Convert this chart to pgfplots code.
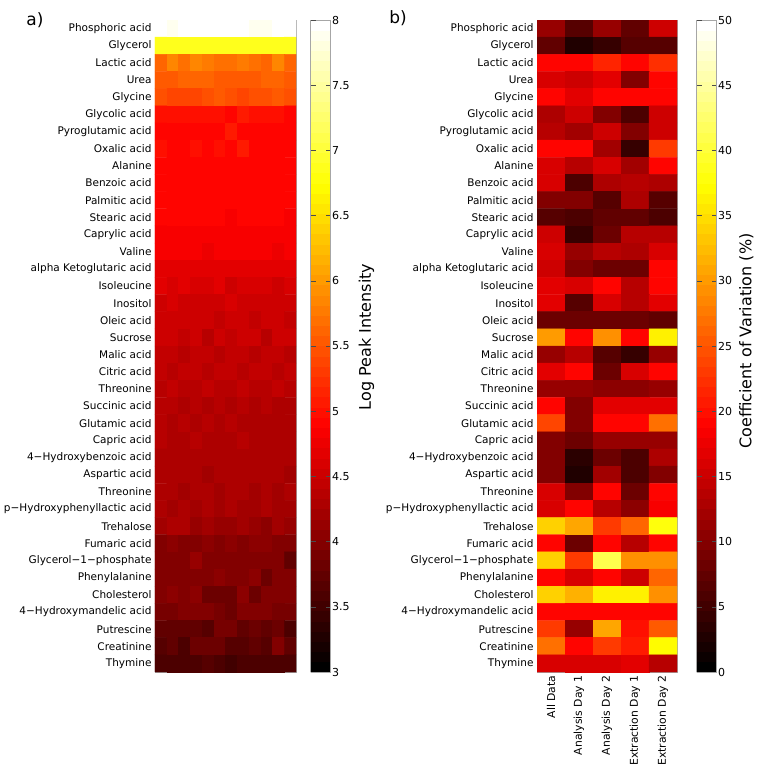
\documentclass[border=0pt]{standalone}
\usepackage{pgfplots}
\pgfplotsset{compat=1.18}
\usepackage{fontspec}
\setmainfont{DejaVu Sans}

\pgfplotsset{
  colormap={hotbase}{rgb(0pt)=(0,0,0); rgb(3pt)=(1,0,0); rgb(6pt)=(1,1,0); rgb(8pt)=(1,1,1)},
  colormap={hot64}{samples of colormap=(64 of hotbase)},
  heat/.style={
    scale only axis, height=652pt,
    enlargelimits=false, y dir=reverse,
    ymin=-0.5, ymax=37.5,
    ytick={0,...,37},
    yticklabels={Phosphoric acid,Glycerol,Lactic acid,Urea,Glycine,Glycolic acid,Pyroglutamic acid,Oxalic acid,Alanine,Benzoic acid,Palmitic acid,Stearic acid,Caprylic acid,Valine,alpha Ketoglutaric acid,Isoleucine,Inositol,Oleic acid,Sucrose,Malic acid,Citric acid,Threonine,Succinic acid,Glutamic acid,Capric acid,4−Hydroxybenzoic acid,Aspartic acid,Threonine,p−Hydroxyphenyllactic acid,Trehalose,Fumaric acid,Glycerol−1−phosphate,Phenylalanine,Cholesterol,4−Hydroxymandelic acid,Putrescine,Creatinine,Thymine},
    yticklabel style={font=\fontsize{10.5}{12}\selectfont},
    major tick length=0pt,
    axis line style={gray!70},
    colormap name=hot64,
    colormap access=piecewise constant,
    colorbar,
  },
  cbar/.style={
    at={(parent axis.north east)}, anchor=north west,
    width=20pt,
    axis line style={gray!70},
    ytick pos=both, yticklabel pos=right,
    tick align=inside, major tick length=5pt,
    tick style={black!70},
    /pgf/number format/assume math mode=true,
    yticklabel style={font=\fontsize{11}{13}\selectfont, inner sep=1.5pt},
    ylabel style={font=\fontsize{16}{19}\selectfont},
  },
}

\begin{document}
\begin{tikzpicture}
\useasboundingbox (0,0) rectangle (762pt,771pt);

\begin{axis}[heat, width=141pt, at={(155pt,99pt)}, anchor=south west,
  xmin=-0.5, xmax=11.5, xtick=\empty,
  point meta min=3, point meta max=8,
  colorbar style={cbar, xshift=6pt, ytick={3,3.5,...,8}, ylabel={Log Peak Intensity}, ylabel style={xshift=9pt, yshift=-4pt}}]
\addplot[matrix plot*, mesh/cols=12, point meta=explicit] coordinates {
(0,0)[7.95] (1,0)[7.9] (2,0)[7.95] (3,0)[7.95] (4,0)[7.95] (5,0)[7.95] (6,0)[7.95] (7,0)[7.95] (8,0)[7.9] (9,0)[7.9] (10,0)[7.95] (11,0)[7.95]
(0,1)[6.85] (1,1)[6.9] (2,1)[6.85] (3,1)[6.9] (4,1)[6.9] (5,1)[6.85] (6,1)[6.85] (7,1)[6.9] (8,1)[6.85] (9,1)[6.9] (10,1)[6.85] (11,1)[6.85]
(0,2)[5.65] (1,2)[5.85] (2,2)[5.7] (3,2)[5.85] (4,2)[5.75] (5,2)[5.7] (6,2)[5.7] (7,2)[5.75] (8,2)[5.7] (9,2)[5.65] (10,2)[5.85] (11,2)[5.65]
(0,3)[5.55] (1,3)[5.55] (2,3)[5.6] (3,3)[5.6] (4,3)[5.6] (5,3)[5.55] (6,3)[5.5] (7,3)[5.55] (8,3)[5.55] (9,3)[5.6] (10,3)[5.65] (11,3)[5.55]
(0,4)[5.45] (1,4)[5.4] (2,4)[5.4] (3,4)[5.4] (4,4)[5.45] (5,4)[5.55] (6,4)[5.45] (7,4)[5.4] (8,4)[5.45] (9,4)[5.45] (10,4)[5.5] (11,4)[5.45]
(0,5)[5.0] (1,5)[5.0] (2,5)[5.0] (3,5)[5.0] (4,5)[5.0] (5,5)[5.0] (6,5)[4.95] (7,5)[5.1] (8,5)[5.0] (9,5)[5.0] (10,5)[5.0] (11,5)[4.95]
(0,6)[4.95] (1,6)[4.95] (2,6)[4.95] (3,6)[4.95] (4,6)[4.95] (5,6)[4.9] (6,6)[5.05] (7,6)[4.95] (8,6)[4.95] (9,6)[4.95] (10,6)[4.9] (11,6)[4.95]
(0,7)[5.0] (1,7)[4.95] (2,7)[4.95] (3,7)[5.0] (4,7)[4.95] (5,7)[5.0] (6,7)[4.95] (7,7)[5.1] (8,7)[4.95] (9,7)[4.95] (10,7)[4.95] (11,7)[4.95]
(0,8)[4.9] (1,8)[4.9] (2,8)[4.9] (3,8)[4.9] (4,8)[4.9] (5,8)[4.9] (6,8)[4.9] (7,8)[4.9] (8,8)[4.9] (9,8)[4.9] (10,8)[4.9] (11,8)[4.9]
(0,9)[4.9] (1,9)[4.9] (2,9)[4.9] (3,9)[4.9] (4,9)[4.9] (5,9)[4.9] (6,9)[4.9] (7,9)[4.9] (8,9)[4.9] (9,9)[4.9] (10,9)[4.9] (11,9)[4.9]
(0,10)[4.9] (1,10)[4.9] (2,10)[4.9] (3,10)[4.9] (4,10)[4.9] (5,10)[4.9] (6,10)[4.9] (7,10)[4.9] (8,10)[4.9] (9,10)[4.9] (10,10)[4.9] (11,10)[4.9]
(0,11)[4.9] (1,11)[4.9] (2,11)[4.9] (3,11)[4.9] (4,11)[4.9] (5,11)[4.9] (6,11)[4.85] (7,11)[4.9] (8,11)[4.9] (9,11)[4.9] (10,11)[4.9] (11,11)[4.85]
(0,12)[4.85] (1,12)[4.85] (2,12)[4.85] (3,12)[4.85] (4,12)[4.85] (5,12)[4.8] (6,12)[4.85] (7,12)[4.85] (8,12)[4.85] (9,12)[4.85] (10,12)[4.8] (11,12)[4.85]
(0,13)[4.8] (1,13)[4.8] (2,13)[4.8] (3,13)[4.8] (4,13)[4.75] (5,13)[4.8] (6,13)[4.8] (7,13)[4.8] (8,13)[4.8] (9,13)[4.8] (10,13)[4.75] (11,13)[4.8]
(0,14)[4.7] (1,14)[4.7] (2,14)[4.7] (3,14)[4.7] (4,14)[4.65] (5,14)[4.7] (6,14)[4.65] (7,14)[4.7] (8,14)[4.7] (9,14)[4.7] (10,14)[4.65] (11,14)[4.7]
(0,15)[4.65] (1,15)[4.6] (2,15)[4.65] (3,15)[4.6] (4,15)[4.6] (5,15)[4.65] (6,15)[4.55] (7,15)[4.6] (8,15)[4.6] (9,15)[4.6] (10,15)[4.55] (11,15)[4.6]
(0,16)[4.55] (1,16)[4.6] (2,16)[4.55] (3,16)[4.55] (4,16)[4.5] (5,16)[4.55] (6,16)[4.6] (7,16)[4.55] (8,16)[4.5] (9,16)[4.5] (10,16)[4.55] (11,16)[4.55]
(0,17)[4.5] (1,17)[4.55] (2,17)[4.5] (3,17)[4.5] (4,17)[4.5] (5,17)[4.45] (6,17)[4.5] (7,17)[4.5] (8,17)[4.45] (9,17)[4.5] (10,17)[4.5] (11,17)[4.45]
(0,18)[4.5] (1,18)[4.5] (2,18)[4.45] (3,18)[4.5] (4,18)[4.4] (5,18)[4.5] (6,18)[4.45] (7,18)[4.5] (8,18)[4.5] (9,18)[4.4] (10,18)[4.5] (11,18)[4.5]
(0,19)[4.45] (1,19)[4.45] (2,19)[4.4] (3,19)[4.45] (4,19)[4.45] (5,19)[4.4] (6,19)[4.45] (7,19)[4.45] (8,19)[4.4] (9,19)[4.45] (10,19)[4.45] (11,19)[4.4]
(0,20)[4.45] (1,20)[4.4] (2,20)[4.45] (3,20)[4.45] (4,20)[4.4] (5,20)[4.45] (6,20)[4.45] (7,20)[4.4] (8,20)[4.45] (9,20)[4.45] (10,20)[4.4] (11,20)[4.45]
(0,21)[4.4] (1,21)[4.45] (2,21)[4.4] (3,21)[4.4] (4,21)[4.45] (5,21)[4.4] (6,21)[4.4] (7,21)[4.45] (8,21)[4.4] (9,21)[4.4] (10,21)[4.45] (11,21)[4.4]
(0,22)[4.35] (1,22)[4.35] (2,22)[4.3] (3,22)[4.35] (4,22)[4.3] (5,22)[4.35] (6,22)[4.25] (7,22)[4.35] (8,22)[4.3] (9,22)[4.35] (10,22)[4.3] (11,22)[4.3]
(0,23)[4.35] (1,23)[4.3] (2,23)[4.35] (3,23)[4.3] (4,23)[4.35] (5,23)[4.3] (6,23)[4.35] (7,23)[4.3] (8,23)[4.25] (9,23)[4.3] (10,23)[4.25] (11,23)[4.3]
(0,24)[4.35] (1,24)[4.3] (2,24)[4.3] (3,24)[4.35] (4,24)[4.3] (5,24)[4.3] (6,24)[4.3] (7,24)[4.35] (8,24)[4.3] (9,24)[4.3] (10,24)[4.3] (11,24)[4.25]
(0,25)[4.3] (1,25)[4.25] (2,25)[4.3] (3,25)[4.3] (4,25)[4.25] (5,25)[4.3] (6,25)[4.25] (7,25)[4.3] (8,25)[4.3] (9,25)[4.25] (10,25)[4.3] (11,25)[4.25]
(0,26)[4.3] (1,26)[4.25] (2,26)[4.25] (3,26)[4.3] (4,26)[4.2] (5,26)[4.3] (6,26)[4.25] (7,26)[4.25] (8,26)[4.3] (9,26)[4.25] (10,26)[4.25] (11,26)[4.2]
(0,27)[4.25] (1,27)[4.25] (2,27)[4.2] (3,27)[4.25] (4,27)[4.25] (5,27)[4.2] (6,27)[4.25] (7,27)[4.25] (8,27)[4.2] (9,27)[4.25] (10,27)[4.2] (11,27)[4.25]
(0,28)[4.25] (1,28)[4.2] (2,28)[4.25] (3,28)[4.2] (4,28)[4.25] (5,28)[4.2] (6,28)[4.25] (7,28)[4.2] (8,28)[4.2] (9,28)[4.25] (10,28)[4.2] (11,28)[4.2]
(0,29)[4.2] (1,29)[4.25] (2,29)[4.25] (3,29)[4.15] (4,29)[4.2] (5,29)[4.15] (6,29)[4.1] (7,29)[4.2] (8,29)[4.15] (9,29)[4.05] (10,29)[4.2] (11,29)[4.15]
(0,30)[4.0] (1,30)[4.05] (2,30)[4.0] (3,30)[4.0] (4,30)[4.05] (5,30)[4.0] (6,30)[4.05] (7,30)[4.0] (8,30)[4.05] (9,30)[4.05] (10,30)[4.0] (11,30)[4.0]
(0,31)[4.0] (1,31)[3.95] (2,31)[4.0] (3,31)[4.1] (4,31)[3.95] (5,31)[4.0] (6,31)[4.0] (7,31)[3.95] (8,31)[4.0] (9,31)[4.0] (10,31)[3.95] (11,31)[3.75]
(0,32)[3.95] (1,32)[3.95] (2,32)[4.0] (3,32)[3.95] (4,32)[3.95] (5,32)[4.05] (6,32)[4.0] (7,32)[4.0] (8,32)[4.05] (9,32)[3.8] (10,32)[4.0] (11,32)[3.95]
(0,33)[3.95] (1,33)[4.05] (2,33)[3.95] (3,33)[4.05] (4,33)[3.85] (5,33)[3.8] (6,33)[3.8] (7,33)[4.05] (8,33)[3.85] (9,33)[3.95] (10,33)[4.0] (11,33)[3.95]
(0,34)[3.9] (1,34)[3.9] (2,34)[3.95] (3,34)[3.95] (4,34)[3.95] (5,34)[3.9] (6,34)[3.85] (7,34)[3.95] (8,34)[3.95] (9,34)[3.95] (10,34)[3.9] (11,34)[3.9]
(0,35)[3.75] (1,35)[3.75] (2,35)[3.75] (3,35)[3.75] (4,35)[3.65] (5,35)[3.9] (6,35)[3.9] (7,35)[3.75] (8,35)[3.8] (9,35)[3.75] (10,35)[3.85] (11,35)[3.6]
(0,36)[3.65] (1,36)[3.75] (2,36)[3.6] (3,36)[3.8] (4,36)[3.8] (5,36)[3.85] (6,36)[3.65] (7,36)[3.65] (8,36)[3.75] (9,36)[3.7] (10,36)[3.95] (11,36)[3.75]
(0,37)[3.6] (1,37)[3.6] (2,37)[3.55] (3,37)[3.6] (4,37)[3.7] (5,37)[3.55] (6,37)[3.5] (7,37)[3.55] (8,37)[3.6] (9,37)[3.6] (10,37)[3.55] (11,37)[3.55]
};
\end{axis}

\begin{axis}[heat, width=140pt, at={(537pt,99pt)}, anchor=south west,
  xmin=-0.5, xmax=4.5, xtick={0,...,4},
  xticklabels={All Data,Analysis Day 1,Analysis Day 2,Extraction Day 1,Extraction Day 2},
  xticklabel style={rotate=90, anchor=east, font=\fontsize{10.8}{12}\selectfont},
  point meta min=0, point meta max=50,
  colorbar style={cbar, xshift=11pt, ytick={0,5,...,50}, ylabel={Coefficient of Variation (\%)}, ylabel style={xshift=5pt, yshift=-2pt}}]
\addplot[matrix plot*, mesh/cols=5, point meta=explicit] coordinates {
(0,0)[11] (1,0)[6.5] (2,0)[11] (3,0)[7.5] (4,0)[15]
(0,1)[7.5] (1,1)[3] (2,1)[4] (3,1)[6.5] (4,1)[6.5]
(0,2)[19] (1,2)[19] (2,2)[21.5] (3,2)[19] (4,2)[22.5]
(0,3)[16] (1,3)[15] (2,3)[17] (3,3)[9.5] (4,3)[19]
(0,4)[19] (1,4)[17] (2,4)[19] (3,4)[19] (4,4)[19]
(0,5)[13] (1,5)[15] (2,5)[9.5] (3,5)[5.5] (4,5)[15]
(0,6)[14] (1,6)[12] (2,6)[15] (3,6)[9.5] (4,6)[15]
(0,7)[19] (1,7)[19] (2,7)[12] (3,7)[4.5] (4,7)[23]
(0,8)[16] (1,8)[14] (2,8)[16] (3,8)[12] (4,8)[19]
(0,9)[16] (1,9)[5.5] (2,9)[13] (3,9)[14] (4,9)[13]
(0,10)[10] (1,10)[10] (2,10)[6.5] (3,10)[13] (4,10)[6.5]
(0,11)[6.5] (1,11)[5.5] (2,11)[7.5] (3,11)[7.5] (4,11)[5.5]
(0,12)[15] (1,12)[4.5] (2,12)[8.5] (3,12)[14] (4,12)[14]
(0,13)[16] (1,13)[11] (2,13)[14] (3,13)[13] (4,13)[16]
(0,14)[15] (1,14)[9.5] (2,14)[8.5] (3,14)[8.5] (4,14)[19]
(0,15)[17] (1,15)[16] (2,15)[19] (3,15)[14] (4,15)[19]
(0,16)[17] (1,16)[6.5] (2,16)[16] (3,16)[14] (4,16)[17]
(0,17)[8.5] (1,17)[8.5] (2,17)[8.5] (3,17)[8.5] (4,17)[7.5]
(0,18)[30] (1,18)[19] (2,18)[29] (3,18)[19] (4,18)[36.5]
(0,19)[11] (1,19)[14] (2,19)[6.5] (3,19)[4] (4,19)[11]
(0,20)[17] (1,20)[19] (2,20)[8.5] (3,20)[16] (4,20)[19]
(0,21)[11] (1,21)[11] (2,21)[10.5] (3,21)[10.5] (4,21)[11]
(0,22)[19] (1,22)[9.5] (2,22)[17] (3,22)[17] (4,22)[17]
(0,23)[24] (1,23)[9.5] (2,23)[19] (3,23)[19] (4,23)[27]
(0,24)[10] (1,24)[8.5] (2,24)[11] (3,24)[11] (4,24)[11]
(0,25)[10] (1,25)[3.5] (2,25)[8.5] (3,25)[5.5] (4,25)[13]
(0,26)[9.5] (1,26)[3] (2,26)[12] (3,26)[5.5] (4,26)[10]
(0,27)[16] (1,27)[9.5] (2,27)[19] (3,27)[8.5] (4,27)[19]
(0,28)[16] (1,28)[19] (2,28)[14] (3,28)[10.5] (4,28)[18]
(0,29)[34] (1,29)[31] (2,29)[23] (3,29)[26] (4,29)[38]
(0,30)[19] (1,30)[8.5] (2,30)[19] (3,30)[14] (4,30)[19]
(0,31)[34] (1,31)[23] (2,31)[41] (3,31)[29] (4,31)[29]
(0,32)[19] (1,32)[16] (2,32)[19] (3,32)[15] (4,32)[26]
(0,33)[34] (1,33)[32] (2,33)[36] (3,33)[36] (4,33)[29]
(0,34)[19] (1,34)[19] (2,34)[19] (3,34)[19] (4,34)[19]
(0,35)[23] (1,35)[11] (2,35)[31] (3,35)[20] (4,35)[25]
(0,36)[27] (1,36)[19] (2,36)[23] (3,36)[21] (4,36)[37]
(0,37)[16] (1,37)[16] (2,37)[16] (3,37)[17] (4,37)[14]
};
\end{axis}

\node[font=\fontsize{17}{20}\selectfont] at (35pt,751pt) {a)};
\node[font=\fontsize{17}{20}\selectfont] at (398pt,753pt) {b)};
\end{tikzpicture}
\end{document}
